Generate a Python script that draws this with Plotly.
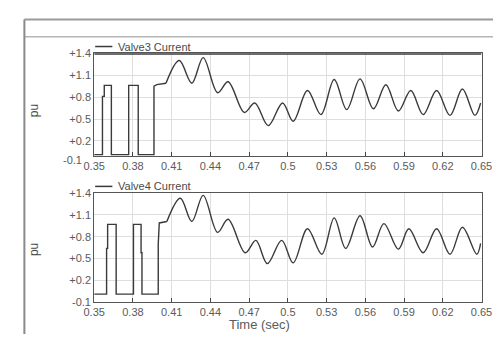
import plotly.graph_objects as go

# ---- data -------------------------------------------------------------
# Valve 3: firing pulses (stepwise) followed by the oscillating conduction current
valve3_step_t = [0.35, 0.3564, 0.3564, 0.3578, 0.3578, 0.3633, 0.3633,
                 0.3767, 0.3767, 0.3841, 0.3841, 0.3963, 0.3963, 0.3985, 0.4056]
valve3_step_v = [0.01, 0.01, 0.81, 0.81, 0.96, 0.96, 0.01,
                 0.01, 0.96, 0.96, 0.01, 0.01, 0.95, 0.97, 0.99]
valve3_osc_t = [0.4056, 0.4159, 0.4256, 0.4344, 0.4456, 0.4537, 0.4663, 0.4744,
                0.4848, 0.4959, 0.5041, 0.5152, 0.5256, 0.5359, 0.5456, 0.5559,
                0.5663, 0.5759, 0.5856, 0.5952, 0.6048, 0.6152, 0.6256, 0.6352,
                0.6448, 0.6493]
valve3_osc_v = [0.99, 1.30, 0.99, 1.34, 0.86, 1.01, 0.59, 0.72,
                0.41, 0.72, 0.47, 0.89, 0.56, 1.04, 0.63, 1.05,
                0.64, 0.97, 0.61, 0.89, 0.56, 0.89, 0.55, 0.91,
                0.55, 0.72]

# Valve 4
valve4_step_t = [0.35, 0.3596, 0.3596, 0.3604, 0.3604, 0.3670, 0.3670,
                 0.3804, 0.3804, 0.3863, 0.3863, 0.3870, 0.3870,
                 0.3996, 0.3996, 0.4004, 0.4063]
valve4_step_v = [0.01, 0.01, 0.64, 0.64, 0.97, 0.97, 0.01,
                 0.01, 0.97, 0.97, 0.58, 0.58, 0.01,
                 0.01, 0.70, 0.99, 1.01]
valve4_osc_t = [0.4063, 0.4167, 0.4256, 0.4344, 0.4456, 0.4537, 0.4670, 0.4752,
                0.4841, 0.4952, 0.5041, 0.5152, 0.5263, 0.5359, 0.5448, 0.5559,
                0.5656, 0.5744, 0.5856, 0.5937, 0.6048, 0.6152, 0.6256, 0.6352,
                0.6463, 0.6493]
valve4_osc_v = [1.01, 1.33, 1.01, 1.37, 0.86, 1.04, 0.58, 0.75,
                0.43, 0.75, 0.44, 0.91, 0.56, 1.06, 0.64, 1.09,
                0.66, 0.98, 0.63, 0.91, 0.58, 0.91, 0.56, 0.93,
                0.56, 0.71]

x_ticks = [0.35, 0.38, 0.41, 0.44, 0.47, 0.5, 0.53, 0.56, 0.59, 0.62, 0.65]
x_tick_labels = ["0.35", "0.38", "0.41", "0.44", "0.47", "0.5", "0.53",
                 "0.56", "0.59", "0.62", "0.65"]
y_ticks = [1.4, 1.1, 0.8, 0.5, 0.2, -0.1]
y_tick_labels = ["+1.4", "+1.1", "+0.8", "+0.5", "+0.2", "-0.1"]

series_names = ["Valve3 Current", "Valve4 Current"]

# ---- figure -----------------------------------------------------------
W, H = 504, 340
FONT = "Liberation Sans, Arial, sans-serif"
LINE = "#3a3a3a"
TXT = "#5a5a5a"

def px_x(p):
    return p / W

def px_y(p):
    return 1 - p / H

fig = go.Figure()

panels = [
    ("x", "y", valve3_step_t, valve3_step_v, valve3_osc_t, valve3_osc_v),
    ("x2", "y2", valve4_step_t, valve4_step_v, valve4_osc_t, valve4_osc_v),
]
for xa, ya, st, sv, ot, ov in panels:
    fig.add_trace(go.Scatter(x=st, y=sv, xaxis=xa, yaxis=ya, mode="lines",
                             line=dict(color=LINE, width=1.4), showlegend=False))
    fig.add_trace(go.Scatter(x=ot, y=ov, xaxis=xa, yaxis=ya, mode="lines",
                             line=dict(color=LINE, width=1.4, shape="spline",
                                       smoothing=1.0),
                             showlegend=False))

x_dom = [px_x(87), px_x(492)]
common_x = dict(range=[0.35, 0.65], tickvals=x_ticks, ticktext=x_tick_labels,
                showgrid=True, gridcolor="#dedede", gridwidth=1,
                showline=True, linecolor="#555", linewidth=1, mirror=True,
                ticks="inside", ticklen=4, tickcolor="#444",
                tickfont=dict(family=FONT, size=11, color=TXT), zeroline=False)
common_y = dict(tickvals=y_ticks, ticktext=y_tick_labels,
                showgrid=True, gridcolor="#dedede", gridwidth=1,
                showline=True, linecolor="#555", linewidth=1, mirror=True,
                ticks="", tickfont=dict(family=FONT, size=11, color=TXT),
                zeroline=False)

fig.update_layout(
    width=W, height=H,
    margin=dict(l=0, r=0, t=0, b=0),
    paper_bgcolor="white", plot_bgcolor="white",
    showlegend=False,
    xaxis=dict(domain=x_dom, anchor="y", **common_x),
    yaxis=dict(domain=[px_y(155), px_y(49)], anchor="x", range=[0.0, 1.4],
               **common_y),
    xaxis2=dict(domain=x_dom, anchor="y2", **common_x),
    yaxis2=dict(domain=[px_y(307), px_y(194)], anchor="x2", range=[-0.1, 1.4],
                **common_y),
)

shapes = []
# outer window frame and header rule
shapes.append(dict(type="line", xref="paper", yref="paper",
                   x0=px_x(14), x1=1, y0=px_y(14), y1=px_y(14),
                   line=dict(color="#9a9a9a", width=2)))
shapes.append(dict(type="line", xref="paper", yref="paper",
                   x0=px_x(14), x1=1, y0=px_y(32), y1=px_y(32),
                   line=dict(color="#b5b5b5", width=1.5)))
shapes.append(dict(type="line", xref="paper", yref="paper",
                   x0=px_x(14), x1=px_x(14), y0=0, y1=px_y(14),
                   line=dict(color="#8a8a8a", width=2)))
# heavy top edge of the upper panel
shapes.append(dict(type="line", xref="x", yref="y",
                   x0=0.35, x1=0.65, y0=1.4, y1=1.4,
                   line=dict(color="#3c3c3c", width=3)))
# legend samples
for ypx in (42, 187):
    shapes.append(dict(type="line", xref="paper", yref="paper",
                       x0=px_x(88), x1=px_x(106), y0=px_y(ypx), y1=px_y(ypx),
                       line=dict(color=LINE, width=1.5)))
fig.update_layout(shapes=shapes)

annotations = []
for name, ypx in zip(series_names, (42, 187)):
    annotations.append(dict(text=name, xref="paper", yref="paper",
                            x=px_x(110), y=px_y(ypx), xanchor="left",
                            yanchor="middle", showarrow=False,
                            font=dict(family=FONT, size=11, color="#4a4a4a")))
for ypx in (108, 252):
    annotations.append(dict(text="pu", xref="paper", yref="paper",
                            x=px_x(24), y=px_y(ypx), textangle=-90,
                            xanchor="center", yanchor="middle", showarrow=False,
                            font=dict(family=FONT, size=12, color="#4a4a4a")))
# bottom tick label of the upper panel, drawn just under its frame
annotations.append(dict(text="-0.1", xref="paper", yref="paper",
                        x=px_x(76), y=px_y(160), xanchor="right",
                        yanchor="middle", showarrow=False,
                        font=dict(family=FONT, size=11, color=TXT)))
annotations.append(dict(text="Time (sec)", xref="paper", yref="paper",
                        x=px_x(260), y=px_y(330), xanchor="center",
                        yanchor="middle", showarrow=False,
                        font=dict(family=FONT, size=13, color="#5a5a5a")))
fig.update_layout(annotations=annotations)

fig.write_html("out.html")
